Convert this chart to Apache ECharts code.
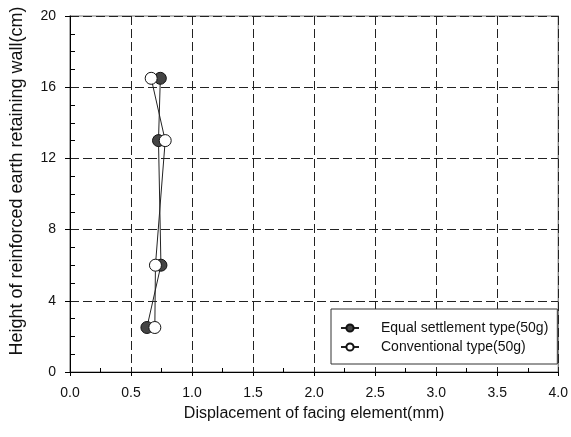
<!DOCTYPE html>
<html><head><meta charset="utf-8">
<script src="https://cdn.jsdelivr.net/npm/echarts@6/dist/echarts.min.js"></script>
<style>html,body{margin:0;padding:0;background:#fff}#c{width:571px;height:437px}</style>
</head><body><div id="c"></div>
<script>
var heights = [16.5, 13.0, 6.0, 2.5];
var equalSettlement = [0.74, 0.725, 0.745, 0.63];
var conventional = [0.665, 0.78, 0.70, 0.695];
var seriesNames = ['Equal settlement type(50g)', 'Conventional type(50g)'];
var xTitle = 'Displacement of facing element(mm)';
var yTitle = 'Height of reinforced earth retaining wall(cm)';

function pairs(xs) { return xs.map(function (v, i) { return [v, heights[i]]; }); }

var chart = echarts.init(document.getElementById('c'));
var font = 'Liberation Sans, Arial, sans-serif';
chart.setOption({
  animation: false,
  textStyle: { fontFamily: font },
  grid: { left: 68, right: 11, top: 16, bottom: 65, show: true, borderColor: '#777', borderWidth: 1.2 },
  xAxis: {
    type: 'value', min: 0, max: 4, interval: 0.5,
    name: xTitle, nameLocation: 'middle', nameGap: 34,
    nameTextStyle: { fontSize: 16, color: '#111', fontFamily: font },
    axisLine: { lineStyle: { color: '#000', width: 1 } },
    axisTick: { show: true, length: 4, lineStyle: { color: '#000' } },
    minorTick: { show: true, splitNumber: 2, length: -4, lineStyle: { color: '#000' } },
    axisLabel: { fontSize: 14, color: '#111', margin: 14, formatter: function (v) { return v.toFixed(1); } },
    splitLine: { show: true, lineStyle: { color: '#222', type: [9, 4], width: 1 } }
  },
  yAxis: {
    type: 'value', min: 0, max: 20, interval: 4,
    name: yTitle, nameLocation: 'middle', nameGap: 44,
    nameTextStyle: { fontSize: 18, color: '#111', fontFamily: font, padding: [0, 0, 0, 26] },
    axisLine: { lineStyle: { color: '#000', width: 1 } },
    axisTick: { show: true, length: 5, lineStyle: { color: '#000' } },
    minorTick: { show: true, splitNumber: 4, length: -5, lineStyle: { color: '#000' } },
    axisLabel: { fontSize: 14, color: '#111', margin: 14 },
    splitLine: { show: true, lineStyle: { color: '#222', type: [9, 4], width: 1 } }
  },
  legend: {
    orient: 'vertical', left: 331, top: 309,
    backgroundColor: '#fff', borderColor: '#333', borderWidth: 1,
    padding: [12, 9, 10, 9], itemGap: 5, itemWidth: 18, itemHeight: 9,
    textStyle: { fontSize: 14, color: '#111', fontFamily: font, padding: [0, 0, 0, 17] },
    data: seriesNames
  },
  series: [
    {
      name: seriesNames[0], type: 'line', data: pairs(equalSettlement),
      symbol: 'circle', symbolSize: 12,
      lineStyle: { color: '#222', width: 1 },
      itemStyle: { color: '#444', borderColor: '#111', borderWidth: 1 }
    },
    {
      name: seriesNames[1], type: 'line', data: pairs(conventional),
      symbol: 'circle', symbolSize: 12,
      lineStyle: { color: '#222', width: 1 },
      itemStyle: { color: '#fff', borderColor: '#111', borderWidth: 1 }
    }
  ]
});
</script></body></html>
